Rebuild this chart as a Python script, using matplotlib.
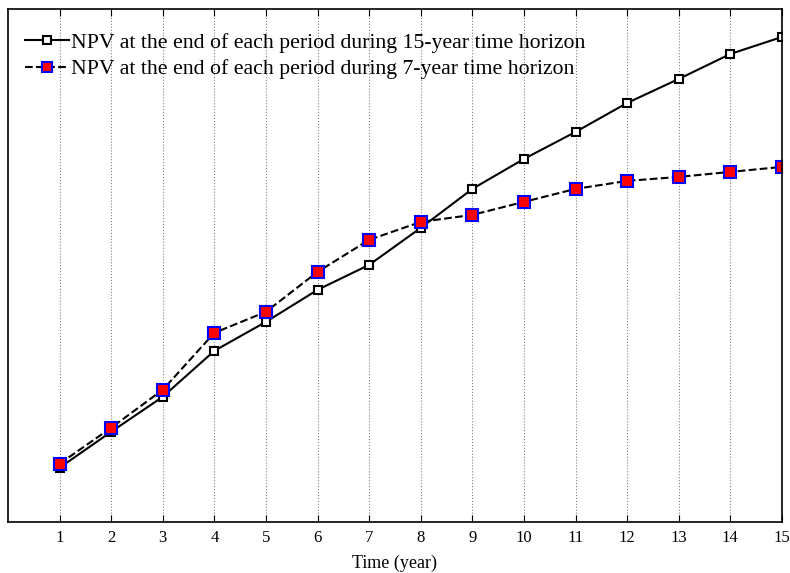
import numpy as np
import matplotlib.pyplot as plt

plt.rcParams['font.family'] = ['Liberation Serif', 'DejaVu Serif']

# Datos (unidades arbitrarias)
periods = np.arange(1, 16)
npv_15 = [54, 90, 125, 171, 200, 232, 257, 294, 333, 363, 390, 419, 443, 468, 485]
npv_7 = [58, 94, 132, 189, 210, 250, 282, 300, 307, 320, 333, 341, 345, 350, 355]

fig = plt.figure(figsize=(7.9, 5.73), dpi=100)
ax = fig.add_axes([0.0101, 0.0895, 0.9797, 0.8948])

ax.plot(periods, npv_15, 's-', color='black', lw=1.5, markersize=6,
        markerfacecolor='white', markeredgecolor='black', markeredgewidth=1.5,
        label='NPV at the end of each period during 15-year time horizon')
ax.plot(periods, npv_7, 's--', color='black', lw=1.5, markersize=8,
        markerfacecolor='red', markeredgecolor='blue', markeredgewidth=1.5,
        label='NPV at the end of each period during 7-year time horizon')

ax.set_xlim(0, 15)
ax.set_ylim(0, 513)
ax.set_xticks(periods)
ax.set_yticks([])
ax.tick_params(axis='x', direction='in', top=True, length=5, labelsize=12, pad=6)
ax.grid(True, axis='x', linestyle=':', color='gray', lw=0.8)
ax.set_xlabel('Time (year)', fontsize=13, labelpad=6)
for s in ax.spines.values():
    s.set_linewidth(1.2)

ax.legend(loc='upper left', frameon=False, fontsize=15.7, handlelength=2.0,
          handletextpad=0.12, borderaxespad=0.2, labelspacing=0.3,
          bbox_to_anchor=(0.005, 0.98), markerscale=0.85)

fig.savefig('out.png', dpi=100)
